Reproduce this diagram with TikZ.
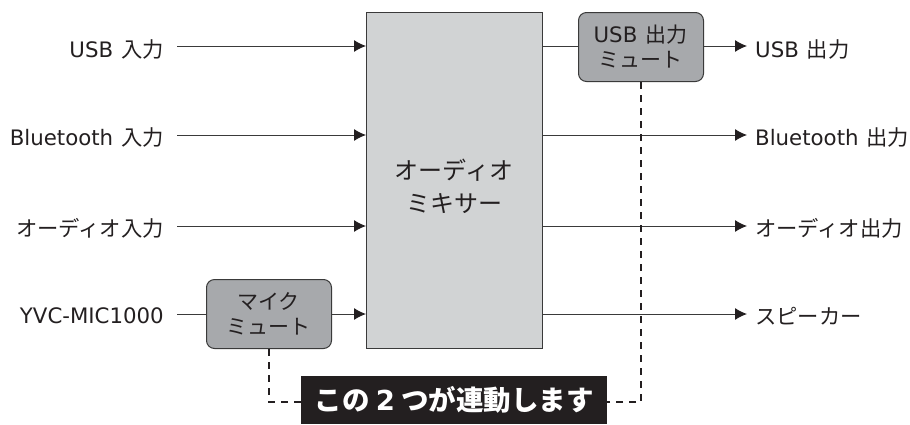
\documentclass[tikz,border=0pt]{standalone}
\usepackage{fontspec}
\setmainfont{Noto Sans CJK JP}
\newfontfamily\latfont{DejaVu Sans}
\newcommand{\lat}[1]{{\latfont\fontsize{21.3}{21.3}\selectfont #1}}
\newcommand{\gp}{\hspace*{8pt}}
\usetikzlibrary{arrows.meta}
\definecolor{ln}{HTML}{3A3A3A}
\definecolor{mixfill}{HTML}{D1D3D4}
\definecolor{mutefill}{HTML}{A7A9AC}
\definecolor{dark}{HTML}{231F20}
\tikzset{
  x=1pt,y=-1pt,
  lab/.style={font=\fontsize{21.3}{24}\selectfont,text=dark,inner sep=0pt},
  llab/.style={lab,anchor=east},
  rlab/.style={lab,anchor=west},
  wire/.style={draw=ln,line width=1pt},
  arr/.style={wire,-{Latex[length=12pt,width=12pt,color=dark]}},
  mute/.style={draw=ln,line width=1pt,fill=mutefill,rounded corners=8pt,inner sep=0pt,minimum width=125pt,minimum height=69pt,anchor=north west},
  mutetext/.style={inner sep=0pt,align=center,font=\fontsize{21}{25}\selectfont,text=dark},
  link/.style={draw=dark,line width=2.5pt,dash pattern=on 7pt off 6pt},
}
\begin{document}
\begin{tikzpicture}
\useasboundingbox (0,0) rectangle (910,424);
\node[draw=ln,line width=1pt,fill=mixfill,minimum width=176pt,minimum height=336pt,anchor=north west,inner sep=0pt] (mix) at (366,12) {};
\node[inner sep=0pt,align=center,font=\fontsize{24}{33}\selectfont,text=dark] (mixt) at (454,186.5) {オーディオ\\ミキサー};
\node[mute] (um) at (578,12) {};
\node[mutetext] (umt) at (640.5,47) {\lat{USB}\gp 出力\\ミュート};
\node[mute] (mm) at (206,279) {};
\node[mutetext] (mmt) at (268.5,314) {マイク\\ミュート};
% left labels
\node[llab] (i1) at (164,49) {\lat{USB}\gp 入力};
\node[llab] (i2) at (164,137) {\lat{Bluetooth}\gp 入力};
\node[llab] (i3) at (164,228) {オーディオ入力};
\node[llab] (i4) at (164,316) {\lat{YVC-MIC1000}};
% right labels
\node[rlab] (o1) at (755,49) {\lat{USB}\gp 出力};
\node[rlab] (o2) at (755,137) {\lat{Bluetooth}\gp 出力};
\node[rlab] (o3) at (755,228) {オーディオ出力};
\node[rlab] (o4) at (755,316) {スピーカー};
% wires
\draw[arr] (177,46) -- (366,46);
\draw[arr] (177,135) -- (366,135);
\draw[arr] (177,226) -- (366,226);
\draw[wire] (177,314) -- (mm.west |- 0,314);
\draw[arr] (mm.east |- 0,314) -- (366,314);
\draw[wire] (mix.east |- 0,46) -- (um.west |- 0,46);
\draw[arr] (um.east |- 0,46) -- (747,46);
\draw[arr] (mix.east |- 0,135) -- (747,135);
\draw[arr] (mix.east |- 0,226) -- (747,226);
\draw[arr] (mix.east |- 0,314) -- (747,314);
% link
\node[fill=dark,text=white,minimum width=306pt,minimum height=48pt,inner sep=0pt,anchor=north west,font=\fontsize{27.5}{30}\selectfont\bfseries] (lk) at (301,376) {\raisebox{-3pt}{この {\latfont\bfseries 2} つが連動します}};
\draw[link] (mm.south) |- (lk.west |- 0,402);
\draw[link] (um.south) |- (lk.east |- 0,402);
\end{tikzpicture}
\end{document}
